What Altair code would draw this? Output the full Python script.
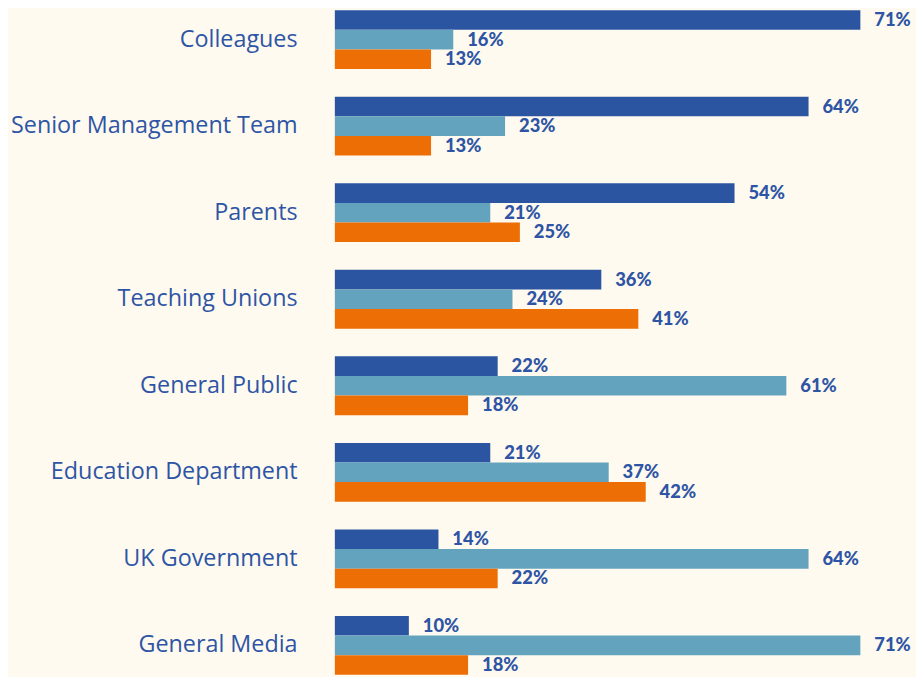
import altair as alt
import pandas as pd

categories = ["Colleagues", "Senior Management Team", "Parents", "Teaching Unions",
              "General Public", "Education Department", "UK Government", "General Media"]
series_names = ["Series 1", "Series 2", "Series 3"]
series_1 = [71, 64, 54, 36, 22, 21, 14, 10]
series_2 = [16, 23, 21, 24, 61, 37, 64, 71]
series_3 = [13, 13, 25, 41, 18, 42, 22, 18]
colors = ["#2B55A1", "#64A3BE", "#EC6E04"]

rows = []
for i, c in enumerate(categories):
    for s, vals in zip(series_names, [series_1, series_2, series_3]):
        rows.append({"category": c, "series": s, "value": vals[i]})
df = pd.DataFrame(rows)

TEXT_BLUE = "#2E55A5"

base = alt.Chart(df).encode(
    y=alt.Y("category:N", sort=categories,
            scale=alt.Scale(paddingInner=0.32, paddingOuter=0),
            axis=alt.Axis(title=None, ticks=False, domain=False, labelFontSize=23.5,
                          labelColor=TEXT_BLUE, labelFont="Open Sans", labelPadding=38,
                          labelLimit=400, minExtent=329, maxExtent=329)),
    yOffset=alt.YOffset("series:N", sort=series_names,
                        scale=alt.Scale(paddingInner=0, paddingOuter=0)),
    x=alt.X("value:Q", scale=alt.Scale(domain=[0, 71], nice=False, zero=True), axis=None),
)

bars = base.mark_bar().encode(
    color=alt.Color("series:N", sort=series_names,
                    scale=alt.Scale(domain=series_names, range=colors), legend=None)
)

labels = base.mark_text(align="left", baseline="middle", dx=14, fontSize=18.5,
                        fontWeight=900, font="Lato", color=TEXT_BLUE).transform_calculate(
    label="datum.value + '%'"
).encode(text="label:N")

chart = (bars + labels).properties(
    width=529, height=669, background="#FFFAEF",
    padding={"left": 0, "top": 0, "bottom": 0, "right": 5}
).configure_view(stroke=None)

chart.save("out.html", embed_options={"renderer": "svg", "actions": False})
